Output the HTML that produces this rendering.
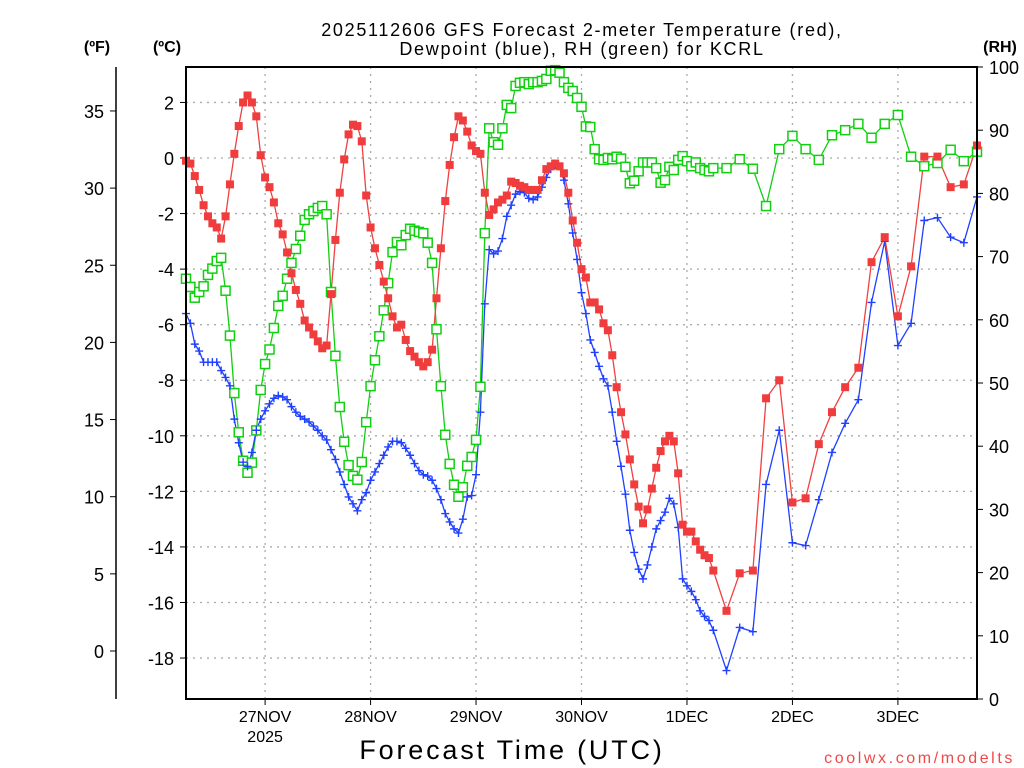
<!DOCTYPE html>
<html><head><meta charset="utf-8"><style>
body{margin:0;background:#fff;}
svg{display:block;font-family:"Liberation Sans",sans-serif;}
</style></head><body>
<svg id="chart" width="1024" height="768" viewBox="0 0 1024 768" xmlns="http://www.w3.org/2000/svg">
<rect width="1024" height="768" fill="#fff"/>
<text x="582" y="36" font-size="18" text-anchor="middle" fill="#000" letter-spacing="1.7">2025112606 GFS Forecast 2-meter Temperature (red),</text>
<text x="582" y="55" font-size="18" text-anchor="middle" fill="#000" letter-spacing="1.7">Dewpoint (blue), RH (green) for KCRL</text>
<text x="97" y="52" font-size="16" font-weight="bold" text-anchor="middle">(ºF)</text>
<text x="167" y="52" font-size="16" font-weight="bold" text-anchor="middle">(ºC)</text>
<text x="1000" y="52" font-size="16" font-weight="bold" text-anchor="middle">(RH)</text>
<text x="512" y="759" font-size="27" text-anchor="middle" letter-spacing="2.8">Forecast Time (UTC)</text>
<text x="1015" y="763" font-size="16" text-anchor="end" fill="#f04848" letter-spacing="2.6">coolwx.com/modelts</text>
<g id="grid"></g>
<g id="axes"></g>
<g id="series"></g>
<rect x="186" y="67" width="791" height="632" fill="none" stroke="#000" stroke-width="2"/>
</svg>
<script>
const celsiusTicks=[2,0,-2,-4,-6,-8,-10,-12,-14,-16,-18];
const fahrenheitTicks=[35,30,25,20,15,10,5,0];
const rhTicks=[100,90,80,70,60,50,40,30,20,10,0];
const dayLabels=["27NOV","28NOV","29NOV","30NOV","1DEC","2DEC","3DEC"];
const dayHours=[18,42,66,90,114,138,162];
const tempHourly=[-0.1,-0.2,-0.65,-1.15,-1.7,-2.1,-2.35,-2.5,-2.9,-2.1,-0.95,0.15,1.15,2.0,2.25,2.0,1.5,0.1,-0.7,-1.05,-1.6,-2.35,-2.75,-3.4,-4.15,-4.75,-5.25,-5.85,-6.1,-6.35,-6.6,-6.85,-6.75,-4.9,-2.95,-1.25,-0.05,0.85,1.2,1.15,0.6,-1.35,-2.5,-3.25,-3.85,-4.45,-5.05,-5.7,-6.1,-6.0,-6.55,-6.95,-7.15,-7.35,-7.5,-7.35,-6.9,-5.05,-3.25,-1.55,-0.25,0.75,1.5,1.35,0.95,0.45,0.25,0.15,-1.25,-2.05,-1.85,-1.6,-1.5,-1.35,-0.85,-0.9,-1.0,-1.05,-1.15,-1.15,-1.15,-0.8,-0.4,-0.3,-0.2,-0.3,-0.55,-1.25,-2.25,-3.05,-4.0,-4.3,-5.2,-5.2,-5.45,-5.95,-6.2,-7.1,-8.25,-9.15,-9.95,-10.85,-11.75,-12.55,-13.15,-12.65,-11.9,-11.15,-10.55,-10.2,-10.0,-10.2,-11.35,-13.2,-13.45,-13.45,-13.8,-14.1,-14.3,-14.4,-14.85];
const temp3h=[-16.3,-14.95,-14.85,-8.65,-8.0,-12.4,-12.25,-10.3,-9.15,-8.25,-7.55,-3.75,-2.85,-5.7,-3.9,0.05,0.05,-1.05,-0.95,0.45];
const dewHourly=[-5.6,-5.95,-6.7,-6.95,-7.35,-7.35,-7.35,-7.35,-7.65,-7.9,-8.2,-9.4,-10.25,-10.95,-11.1,-10.6,-9.8,-9.4,-9.1,-8.85,-8.65,-8.55,-8.6,-8.7,-8.95,-9.15,-9.3,-9.4,-9.5,-9.65,-9.8,-10.0,-10.15,-10.5,-10.85,-11.3,-11.75,-12.2,-12.45,-12.7,-12.3,-12.05,-11.6,-11.3,-11.0,-10.7,-10.4,-10.2,-10.2,-10.25,-10.45,-10.7,-11.0,-11.25,-11.4,-11.45,-11.6,-11.9,-12.3,-12.8,-13.1,-13.35,-13.5,-13.0,-12.2,-12.15,-11.4,-9.15,-5.25,-3.3,-3.45,-3.35,-2.9,-2.1,-1.7,-1.3,-1.2,-1.25,-1.45,-1.5,-1.4,-1.05,-0.7,-0.4,-0.25,-0.3,-0.8,-1.65,-2.7,-3.65,-4.85,-5.6,-6.55,-7.0,-7.5,-7.95,-8.2,-9.15,-10.2,-11.1,-12.1,-13.4,-14.2,-14.8,-15.15,-14.65,-14.0,-13.35,-13.05,-12.75,-12.25,-12.45,-13.3,-15.15,-15.4,-15.6,-15.9,-16.3,-16.5,-16.65,-17.0];
const dew3h=[-18.45,-16.9,-17.05,-11.75,-9.8,-13.85,-13.95,-12.3,-10.6,-9.55,-8.7,-5.2,-3.0,-6.75,-5.95,-2.25,-2.15,-2.85,-3.05,-1.4];
const rhHourly=[66.5,65.2,63.5,64.4,65.3,67.1,68.1,69.3,69.8,64.6,57.5,48.4,42.2,37.7,35.8,37.4,42.5,48.9,53.0,55.3,58.7,62.2,63.8,66.5,69.0,71.2,73.3,75.8,76.7,77.2,77.7,78.0,76.7,64.4,54.3,46.2,40.7,37.0,35.3,34.7,37.5,43.8,49.5,53.6,57.4,61.5,65.8,70.7,72.3,71.8,73.4,74.4,74.1,73.9,73.7,72.2,69.0,58.5,49.5,41.8,37.2,33.9,32.0,33.5,36.9,38.3,41.0,49.4,73.7,90.3,88.1,87.7,90.3,94.0,93.5,97.0,97.5,97.6,97.3,97.6,97.6,97.8,98.1,99.4,99.5,99.1,97.6,96.7,96.2,95.1,93.7,90.6,90.5,87.0,85.4,85.3,85.6,85.4,85.8,85.5,84.2,81.6,82.0,83.5,84.9,84.9,84.9,84.0,81.7,82.1,84.2,83.7,85.3,85.9,85.1,84.3,84.9,84.0,83.7,83.5,84.0];
const rh3h=[84.0,85.4,83.9,78.0,87.0,89.1,87.0,85.3,89.2,90.0,91.0,88.8,91.0,92.4,85.8,84.3,84.8,86.9,85.1,86.6];

const NS="http://www.w3.org/2000/svg";
const X0=186,X1=977,Y0=67,Y1=699,HMAX=180;
function xPos(h){return X0+(X1-X0)*h/HMAX;}
function yC(c){return 158-27.78*c;}
function yF(f){return 651-15.43*f;}
function yRH(r){return Y1-(Y1-Y0)*r/100;}
const hours=[];for(let i=0;i<=120;i++)hours.push(i);for(let h=123;h<=180;h+=3)hours.push(h);
const temp=tempHourly.concat(temp3h),dew=dewHourly.concat(dew3h),rh=rhHourly.concat(rh3h);
function mk(tag,attrs,parent){const e=document.createElementNS(NS,tag);for(const k in attrs)e.setAttribute(k,attrs[k]);parent.appendChild(e);return e;}
const grid=document.getElementById('grid'),axes=document.getElementById('axes'),series=document.getElementById('series');
celsiusTicks.forEach(c=>{
  const y=yC(c);
  const g=mk('line',{x1:X0,x2:X1,y1:y,y2:y,stroke:'#aaa','stroke-width':1.3,'stroke-dasharray':'2,5'},grid);
  
  
  mk('line',{x1:X0-6,x2:X0,y1:y,y2:y,stroke:'#000'},axes);
  const t=mk('text',{x:X0-12,y:y+7,'font-size':18,'text-anchor':'end'},axes);
  t.textContent=c;
  
  
});
mk('line',{x1:116,x2:116,y1:Y0,y2:Y1,stroke:'#000','stroke-width':1.5},axes);
fahrenheitTicks.forEach(f=>{
  const y=yF(f);
  mk('line',{x1:110,x2:116,y1:y,y2:y,stroke:'#000'},axes);
  const t=mk('text',{x:104,y:y+7,'font-size':18,'text-anchor':'end'},axes);
  t.textContent=f;
  
  
});
rhTicks.forEach(r=>{
  const y=yRH(r);
  mk('line',{x1:X1,x2:X1+6,y1:y,y2:y,stroke:'#000'},axes);
  const t=mk('text',{x:X1+12,y:y+7,'font-size':18,'text-anchor':'start'},axes);
  t.textContent=r;
  
  
});
dayLabels.forEach((d,i)=>{
  const x=xPos(dayHours[i]);
  const g=mk('line',{x1:x,x2:x,y1:Y0,y2:Y1,stroke:'#aaa','stroke-width':1.3,'stroke-dasharray':'2,5'},grid);
  
  
  mk('line',{x1:x,x2:x,y1:Y1,y2:Y1+6,stroke:'#000'},axes);
  const t=mk('text',{x:x,y:722,'font-size':16,'text-anchor':'middle'},axes);
  t.textContent=d;
  
  
});
const yr=mk('text',{x:xPos(18),y:742,'font-size':16,'text-anchor':'middle'},axes);
yr.textContent='2025';



function drawLine(vals,yf,color,name){
  const pts=vals.map((v,i)=>xPos(hours[i]).toFixed(1)+','+yf(v).toFixed(1)).join(' ');
  const p=mk('polyline',{points:pts,fill:'none',stroke:color,'stroke-width':1.3},series);
  
  
}
drawLine(rh,yRH,'#10d010','rh-line');
drawLine(dew,yC,'#2040ff','dewpoint-line');
drawLine(temp,yC,'#f04040','temperature-line');
rh.forEach((v,i)=>{
  const m=mk('rect',{x:xPos(hours[i])-4.5,y:yRH(v)-4.5,width:9,height:9,fill:'#fff',stroke:'#10d010','stroke-width':1.5},series);
  
  
});
dew.forEach((v,i)=>{
  const x=xPos(hours[i]),y=yC(v);
  const m=mk('path',{d:`M${x-4},${y}H${x+4}M${x},${y-4}V${y+4}`,stroke:'#2040ff','stroke-width':1.4},series);
  
  
});
temp.forEach((v,i)=>{
  const m=mk('rect',{x:xPos(hours[i])-4,y:yC(v)-4,width:8,height:8,fill:'#f03c3c'},series);
  
  
});
</script>
</body></html>
